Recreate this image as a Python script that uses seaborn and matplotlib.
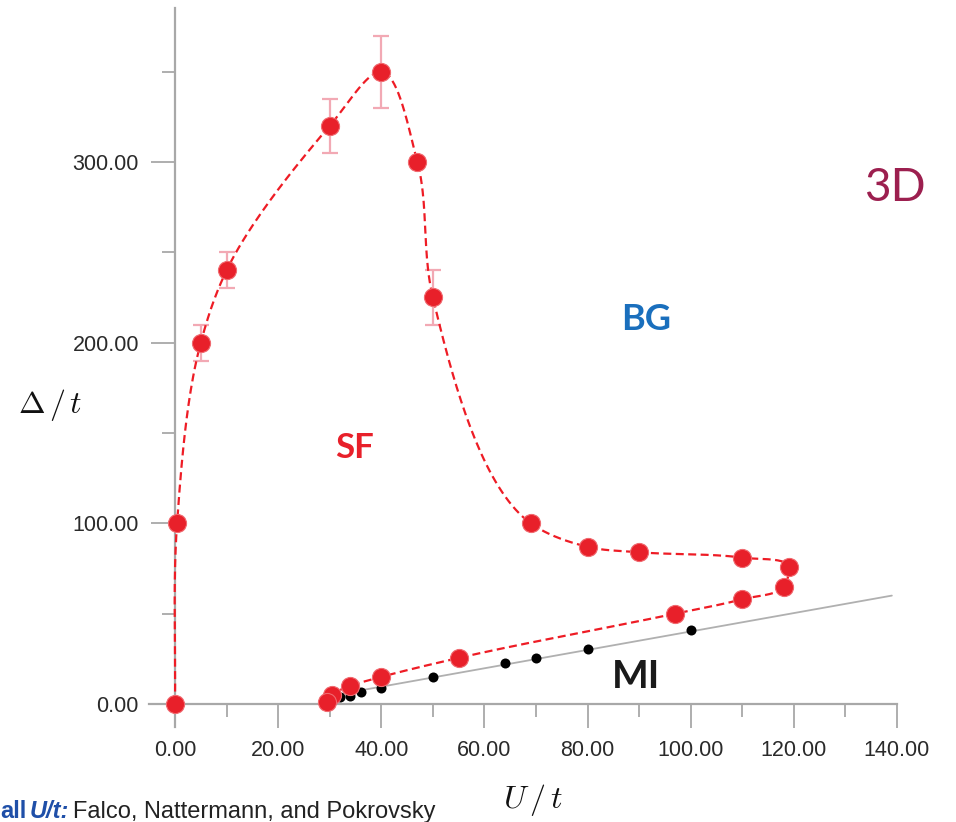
import numpy as np
import pandas as pd
import matplotlib
matplotlib.use("Agg")
import matplotlib.pyplot as plt
import seaborn as sns
from matplotlib.ticker import MultipleLocator, FormatStrFormatter

# ---- data ----
sf_u = [0, 0.4, 5, 10, 30, 40, 47, 50, 69, 80, 90, 110, 119, 118, 110, 97, 55, 40, 34, 30.4, 29.5]
sf_d = [0, 100, 200, 240, 320, 350, 300, 225, 100, 87, 84, 81, 76, 65, 58, 50, 25.5, 15, 10, 5, 1]
err_u = [5, 10, 30, 40, 50]
err_d = [200, 240, 320, 350, 225]
err_size = [10, 10, 15, 20, 15]
mi_u = [32, 34, 36, 40, 50, 64, 70, 80, 100]
mi_d = [3.7, 4.4, 6.8, 9, 15, 22.5, 25.5, 30.5, 41]
mi_line_u = [31, 139]
mi_line_d = [5, 60]
x_ticks = [0, 20, 40, 60, 80, 100, 120, 140]
y_ticks = [0, 100, 200, 300]

W, H = 956, 822
sns.set_theme(style="white")
plt.rcParams["font.family"] = ["Liberation Sans", "DejaVu Sans"]
plt.rcParams["mathtext.fontset"] = "cm"

fig = plt.figure(figsize=(W / 100, H / 100), dpi=100)
# pixel mapping: u=0 -> 175px, 5.157 px/unit ; d=0 -> 704px, 1.8067 px/unit
xl, xr = -5, 140
yb, yt = -13, 385
px_u, px_d = 722 / 140, 180.67 / 100
left = 175 + xl * px_u
right = 175 + xr * px_u
top = 704 - yt * px_d
bot = 704 - yb * px_d
ax = fig.add_axes([left / W, 1 - bot / H, (right - left) / W, (bot - top) / H])
ax.set_xlim(xl, xr)
ax.set_ylim(yb, yt)
ax.patch.set_alpha(0)


def catmull_rom(xs, ys, n=40, alpha=0.8):
    P = np.column_stack([xs, ys]).astype(float)
    P = np.vstack([2 * P[0] - P[1], P, 2 * P[-1] - P[-2]])
    out = []
    for i in range(len(P) - 3):
        p0, p1, p2, p3 = P[i:i + 4]
        t0 = 0.0
        t1 = t0 + np.linalg.norm(p1 - p0) ** alpha
        t2 = t1 + np.linalg.norm(p2 - p1) ** alpha
        t3 = t2 + np.linalg.norm(p3 - p2) ** alpha
        t = np.linspace(t1, t2, n)[:, None]
        A1 = (t1 - t) / (t1 - t0) * p0 + (t - t0) / (t1 - t0) * p1
        A2 = (t2 - t) / (t2 - t1) * p1 + (t - t1) / (t2 - t1) * p2
        A3 = (t3 - t) / (t3 - t2) * p2 + (t - t2) / (t3 - t2) * p3
        B1 = (t2 - t) / (t2 - t0) * A1 + (t - t0) / (t2 - t0) * A2
        B2 = (t3 - t) / (t3 - t1) * A2 + (t - t1) / (t3 - t1) * A3
        C = (t2 - t) / (t2 - t1) * B1 + (t - t1) / (t2 - t1) * B2
        out.append(C if i == 0 else C[1:])
    return np.vstack(out)


# smooth dashed boundary (computed in pixel-equal space)
cu = np.array(sf_u) * px_u
cd = np.array(sf_d) * px_d
curve = catmull_rom(cu, cd)
ax.plot(curve[:, 0] / px_u, curve[:, 1] / px_d, color="#ee1c25", lw=1.6,
        linestyle=(0, (3.6, 2.0)), zorder=3)

# grey MI line
sns.lineplot(x=mi_line_u, y=mi_line_d, ax=ax, color="#b0b0b0", lw=1.3, zorder=2)

# error bars
ax.errorbar(err_u, err_d, yerr=err_size, fmt="none", ecolor="#f2a9b4",
            elinewidth=1.6, capsize=6, capthick=1.6, zorder=2)

# black points
mi_df = pd.DataFrame({"u": mi_u, "d": mi_d})
sns.scatterplot(data=mi_df, x="u", y="d", ax=ax, color="black", s=52,
                edgecolor="black", linewidth=0, zorder=4)

# red points
sf_df = pd.DataFrame({"u": sf_u, "d": sf_d})
sns.scatterplot(data=sf_df, x="u", y="d", ax=ax, color="#e8202a", s=170,
                edgecolor="#f06a70", linewidth=0.8, zorder=5)

# axes styling
for s in ["top", "right"]:
    ax.spines[s].set_visible(False)
ax.spines["left"].set_position(("data", 0))
ax.spines["bottom"].set_position(("data", 0))
for s in ["left", "bottom"]:
    ax.spines[s].set_color("#a8a8a8")
    ax.spines[s].set_linewidth(1.6)
ax.set_xticks(x_ticks)
ax.set_yticks(y_ticks)
ax.xaxis.set_minor_locator(MultipleLocator(10))
ax.yaxis.set_minor_locator(MultipleLocator(50))
fmt = FormatStrFormatter("%.2f")
ax.xaxis.set_major_formatter(fmt)
ax.yaxis.set_major_formatter(fmt)
ax.tick_params(which="major", direction="out", length=17, width=1.3, color="#a8a8a8",
               labelsize=15.5, labelcolor="#2a2a2a", pad=9,
               bottom=True, left=True)
ax.tick_params(which="minor", direction="out", length=9.5, width=1.3, color="#a8a8a8",
               bottom=True, left=True)
ax.set_xlabel("")
ax.set_ylabel("")

# texts
def ftext(px, py, s, **kw):
    fig.text(px / W, 1 - py / H, s, **kw)

ftext(50, 405, r"$\Delta\,/\,t$", fontsize=23, ha="center", va="center", color="#111111")
ftext(533, 800, r"$U\,/\,t$", fontsize=23, ha="center", va="center", color="#111111")
ftext(895, 188, "3D", fontsize=33, ha="center", va="center", color="#9c1f4f", family=["Lato", "DejaVu Sans"])
ftext(646, 319, "BG", fontsize=26, ha="center", va="center", color="#1a6fbd", fontweight="bold", family=["Lato", "DejaVu Sans"])
ftext(355, 448, "SF", fontsize=25, ha="center", va="center", color="#e8202a", fontweight="bold", family=["Lato", "DejaVu Sans"])
ftext(636, 676, "MI", fontsize=28, ha="center", va="center", color="#1a1a1a", fontweight="bold", family=["Lato", "DejaVu Sans"])

ftext(0, 818, "all", fontsize=17, ha="left", va="baseline", color="#1f4fa8", fontweight="bold")
ftext(30, 818, "U/t:", fontsize=17, ha="left", va="baseline", color="#1f4fa8", fontweight="bold", style="italic")
ftext(73, 818, "Falco, Nattermann, and Pokrovsky", fontsize=17, ha="left", va="baseline", color="#222222")

fig.savefig("out.png", dpi=100)
